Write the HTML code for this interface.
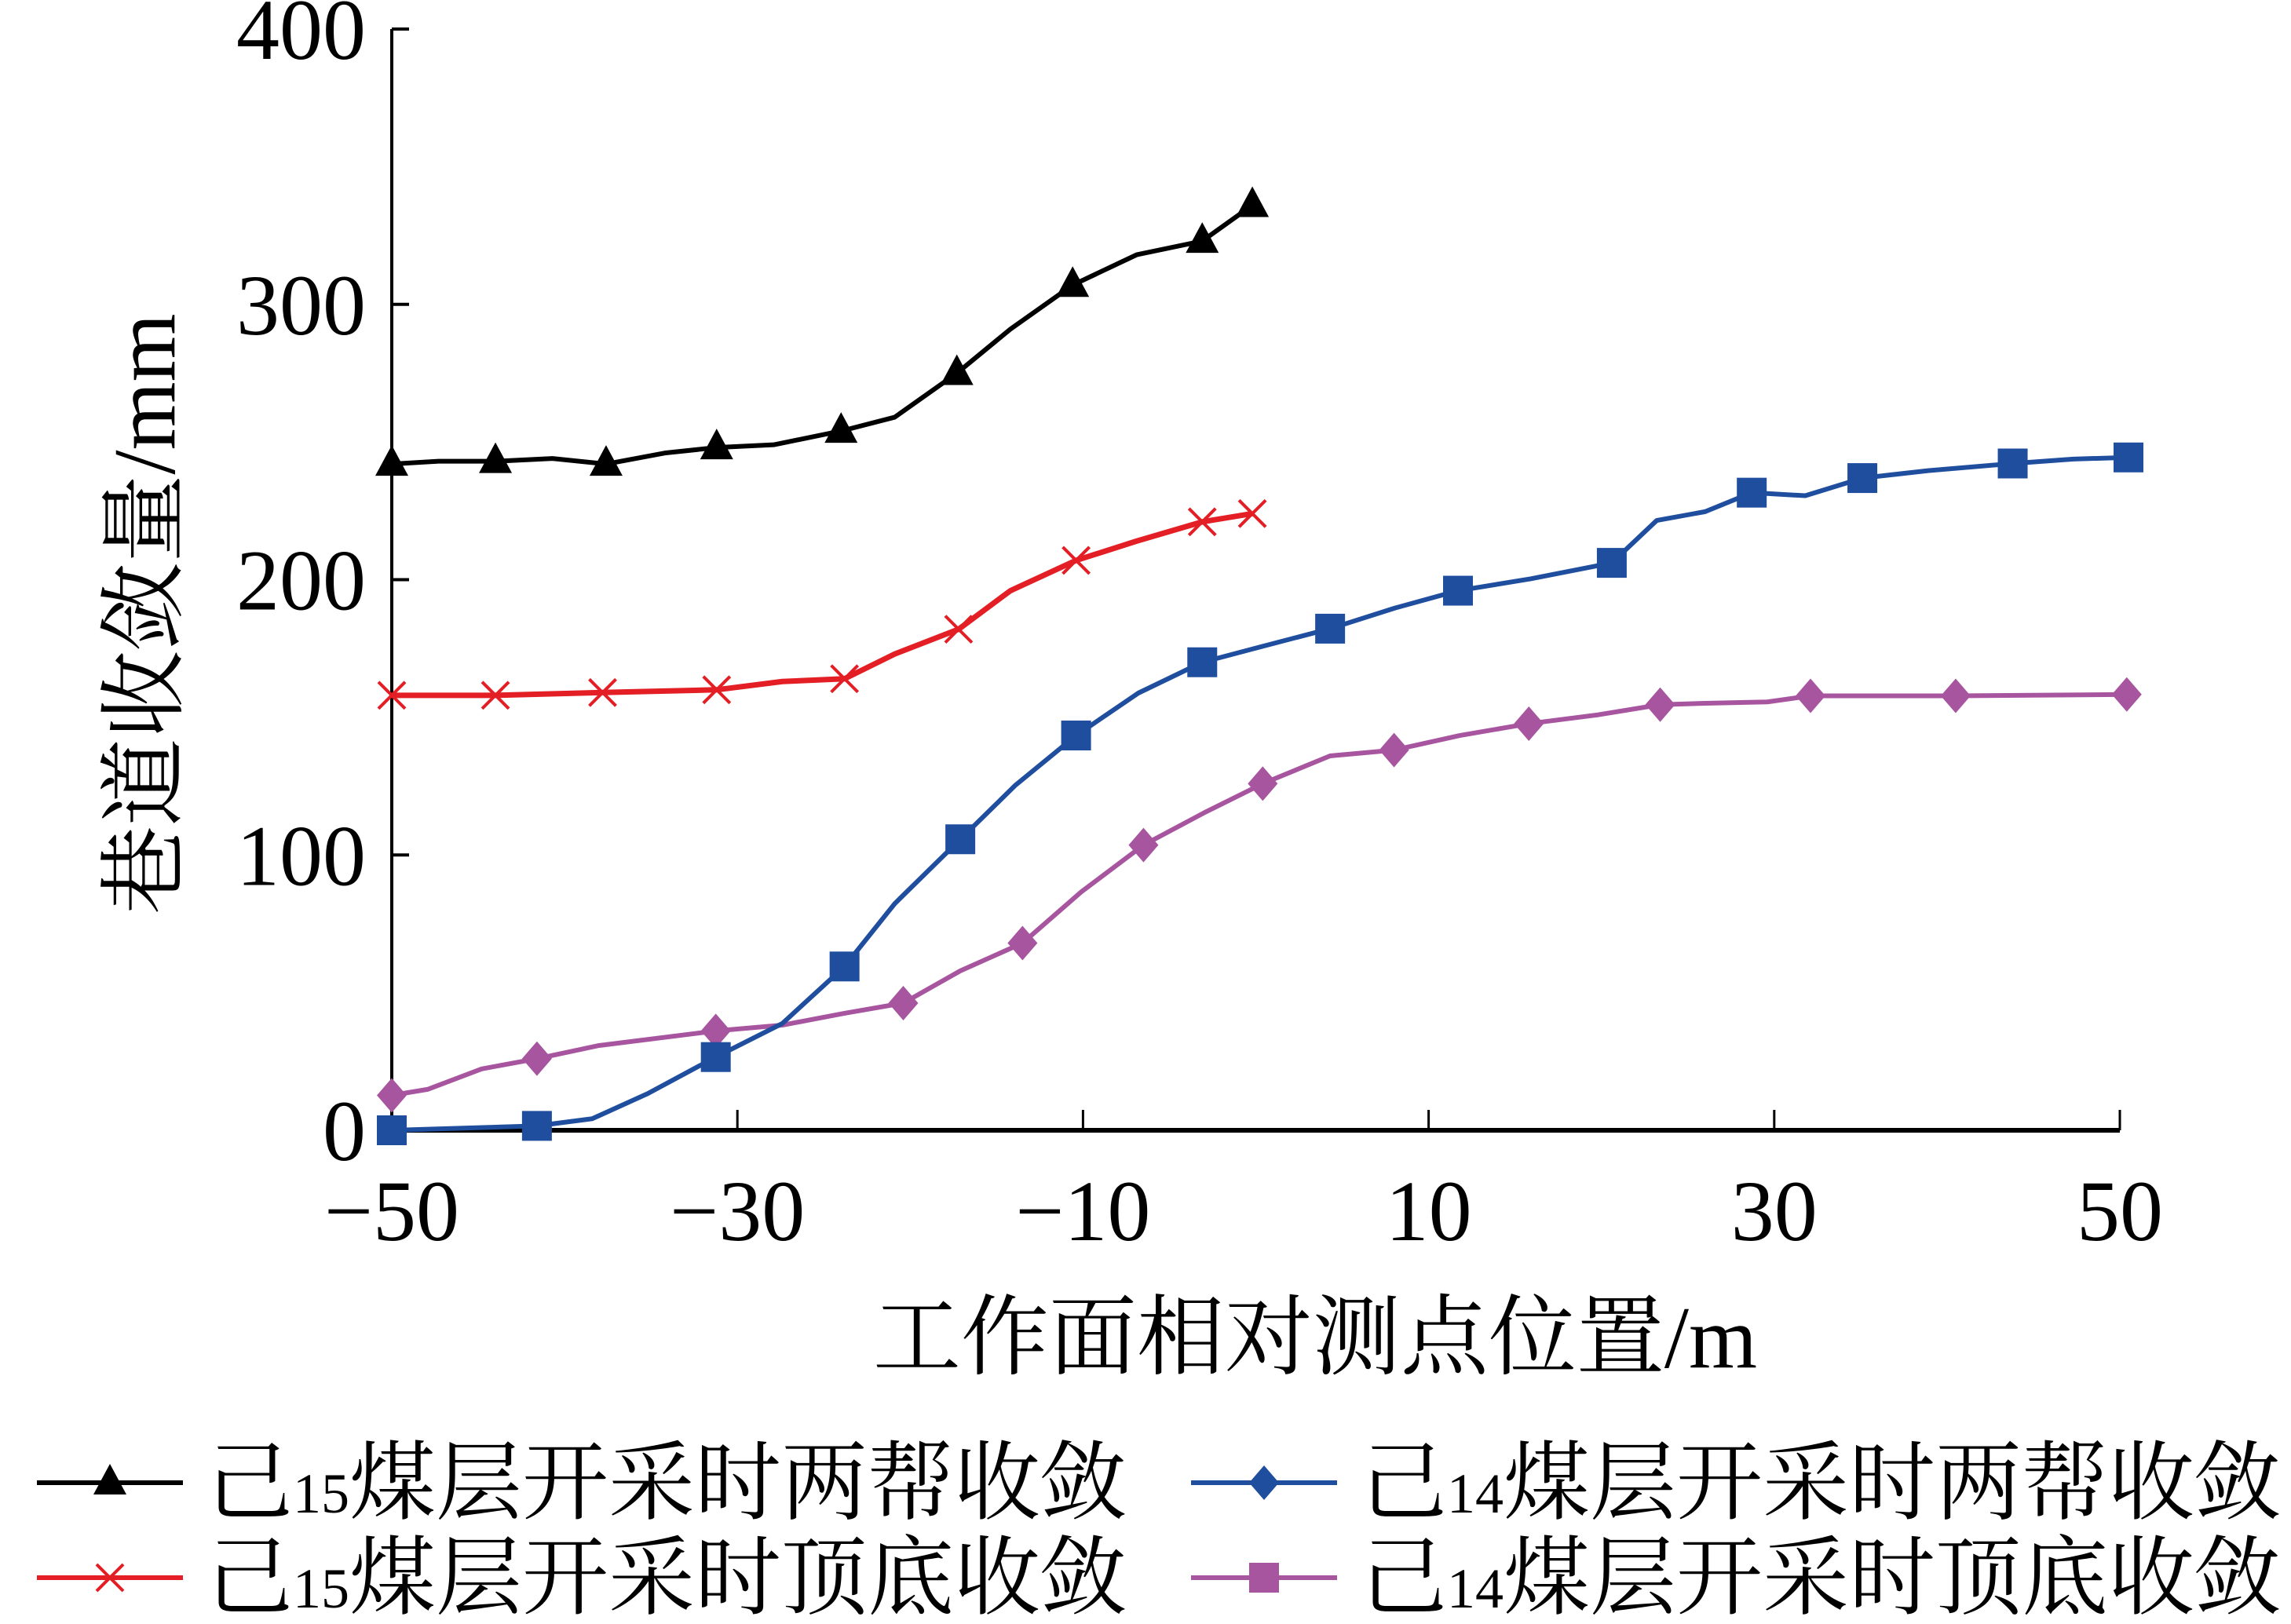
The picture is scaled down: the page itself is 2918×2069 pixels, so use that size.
<!DOCTYPE html>
<html><head><meta charset="utf-8"><style>
html,body{margin:0;padding:0;background:#fff}
svg{display:block}
text{font-family:"Liberation Serif","Noto Serif CJK SC","Noto Sans CJK SC",serif;fill:#000}
</style></head><body>
<svg id="chart" width="2918" height="2069" viewBox="0 0 2918 2069" xmlns="http://www.w3.org/2000/svg">
<g id="axes"></g>
<g id="series"></g>
<text x="1675" y="1742" font-size="112" text-anchor="middle">工作面相对测点位置/m</text>
<text transform="translate(222,782) rotate(-90)" font-size="112" text-anchor="middle">巷道收敛量/mm</text>
<g id="legend"></g>
</svg>
<script>
const xTicks = [-50, -30, -10, 10, 30, 50];
const yTicks = [0, 100, 200, 300, 400];

const blackX = [-50,-47.3,-44,-40.7,-37.6,-34.2,-31.2,-27.9,-24,-20.9,-17.3,-14.2,-10.6,-6.9,-3.1,-0.2];
const blackY = [242,243,243,244,242,246,248,249,254,259,275,291,307,318,323,336];
const blackM = [0,2,4,6,8,10,12,14,15];

const redX = [-50,-44,-37.8,-31.2,-27.4,-23.8,-20.9,-17.2,-14.2,-10.4,-6.9,-3.1,-0.2];
const redY = [158,158,159,160,163,164,173,182,196,207,214,221,224];
const redM = [0,1,2,3,5,7,9,11,12];

const blueX = [-50,-41.6,-38.4,-35.2,-31.25,-27.4,-23.8,-20.9,-17.1,-13.9,-10.4,-6.8,-3.1,0.4,4.3,8,11.7,15.9,20.6,23.2,26,28.7,31.8,35.1,38.9,43.8,47.3,50.5];
const blueY = [0,1.6,4.2,13.3,26.6,38.8,59.5,82.3,105.7,125.4,143.4,158.8,170,175.8,182.2,189.6,196,200.3,206.1,221.5,224.7,231.6,230.5,236.9,239.6,242.2,243.8,244.4];
const blueM = [0,1,4,6,8,10,12,14,16,18,21,23,25,27];

const purpleX = [-50,-47.9,-44.8,-41.6,-38,-31.25,-27.4,-23.8,-20.4,-17.1,-13.5,-10.1,-6.5,-3,0.4,4.3,8,11.8,15.8,19.8,23.4,26,29.6,32.1,36.3,40.5,50.4];
const purpleY = [12.7,14.9,22.3,26,30.8,36.1,38.2,42.5,46.2,57.9,68,86.6,103.6,115.3,125.9,136,138.1,143.4,147.7,150.9,154.6,155.1,155.6,157.8,157.8,157.8,158.3];
const purpleM = [0,3,5,8,10,12,14,16,18,20,23,25,26];

const NS = "http://www.w3.org/2000/svg";
const X0 = 499, X1 = 2700, Y0 = 1440, Y1 = 37;
function xs(v){ return X0 + (v + 50) / 100 * (X1 - X0); }
function ys(v){ return Y0 - v / 400 * (Y0 - Y1); }
function mk(tag, attrs, parent){
  const e = document.createElementNS(NS, tag);
  for (const k in attrs) e.setAttribute(k, attrs[k]);
  parent.appendChild(e);
  return e;
}
const axes = document.getElementById('axes');
let e;
e = mk('line', {x1:X0, y1:Y1, x2:X0, y2:Y0, stroke:'#000', 'stroke-width':4}, axes);


e = mk('line', {x1:X0, y1:Y0, x2:X1, y2:Y0, stroke:'#000', 'stroke-width':6}, axes);


yTicks.forEach(v => {
  const t = mk('line', {x1:X0, y1:ys(v), x2:X0+22, y2:ys(v), stroke:'#000', 'stroke-width':4}, axes);
  
  
  const l = mk('text', {x:466, y:ys(v)+38, 'font-size':110, 'text-anchor':'end'}, axes);
  l.textContent = v;
  
  
});
xTicks.forEach(v => {
  const t = mk('line', {x1:xs(v), y1:Y0, x2:xs(v), y2:Y0-26, stroke:'#000', 'stroke-width':3}, axes);
  
  
  const l = mk('text', {x:xs(v), y:1580, 'font-size':110, 'text-anchor':'middle'}, axes);
  l.textContent = v < 0 ? '\u2212' + (-v) : v;
  
  
});

function marker(type, cx, cy, color, parent){
  let m;
  if (type === 'tri') m = mk('polygon', {points:`${cx},${cy-24} ${cx-21},${cy+15} ${cx+21},${cy+15}`, fill:color}, parent);
  else if (type === 'sq') m = mk('rect', {x:cx-19, y:cy-19, width:38, height:38, fill:color}, parent);
  else if (type === 'dia') m = mk('polygon', {points:`${cx},${cy-22} ${cx+19},${cy} ${cx},${cy+22} ${cx-19},${cy}`, fill:color}, parent);
  else m = mk('path', {d:`M${cx-17},${cy-17}L${cx+17},${cy+17}M${cx-17},${cy+17}L${cx+17},${cy-17}`, stroke:color, 'stroke-width':4, fill:'none'}, parent);
  return m;
}
const sg = document.getElementById('series');
function drawSeries(X, Y, M, color, type, name, w){
  const g = mk('g', {}, sg);
  
  
  const p = mk('polyline', {points:X.map((x,i)=>xs(x)+','+ys(Y[i])).join(' '), fill:'none', stroke:color, 'stroke-width':w, 'stroke-linejoin':'round'}, g);
  
  
  M.forEach(i => {
    const m = marker(type, xs(X[i]), ys(Y[i]), color, g);
    
    
  });
}
drawSeries(purpleX, purpleY, purpleM, '#a855a0', 'dia', 'j14-roof-floor-series', 6);
drawSeries(blueX, blueY, blueM, '#1f4e9e', 'sq', 'j14-sides-series', 6);
drawSeries(redX, redY, redM, '#e31e24', 'x', 'j15-roof-floor-series', 7);
drawSeries(blackX, blackY, blackM, '#000000', 'tri', 'j15-sides-series', 6);

const lg = document.getElementById('legend');
const entries = [
  {x:47, y:1889, color:'#000', type:'tri', sub:'15', txt:'煤层开采时两帮收敛'},
  {x:1517, y:1889, color:'#1f4e9e', type:'dia', sub:'14', txt:'煤层开采时两帮收敛'},
  {x:47, y:2010, color:'#e31e24', type:'x', sub:'15', txt:'煤层开采时顶底收敛'},
  {x:1517, y:2010, color:'#a855a0', type:'sq', sub:'14', txt:'煤层开采时顶底收敛'}
];
entries.forEach(en => {
  const g = mk('g', {}, lg);
  
  
  mk('line', {x1:en.x, y1:en.y, x2:en.x+186, y2:en.y, stroke:en.color, 'stroke-width':6}, g);
  marker(en.type, en.x+93, en.y, en.color, g);
  const t = mk('text', {x:en.x+216, y:en.y+38, 'font-size':110}, g);
  const a = mk('tspan', {}, t); a.textContent = '己';
  const b = mk('tspan', {'font-size':72}, t); b.textContent = en.sub;
  const c = mk('tspan', {}, t); c.textContent = en.txt;
});
</script>
</body></html>
